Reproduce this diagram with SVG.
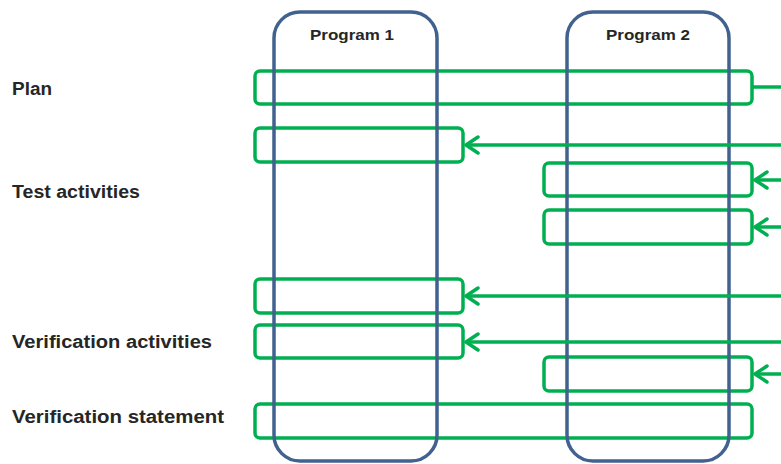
<svg xmlns="http://www.w3.org/2000/svg" width="781" height="464" viewBox="0 0 781 464">
<defs>
<style>
.col{fill:none;stroke:#41618f;stroke-width:3.5}
.box{fill:none;stroke:#00b050;stroke-width:3.5}
.con{fill:none;stroke:#00b050;stroke-width:3.5}
.lbl{font-family:"Liberation Sans",Arial,sans-serif;font-weight:bold;font-size:18px;fill:#262626}
.hdr{font-family:"Liberation Sans",Arial,sans-serif;font-weight:bold;font-size:15px;fill:#262626;text-anchor:middle}
</style>
<marker id="arr" viewBox="0 0 20 20" refX="18" refY="10" markerWidth="20" markerHeight="20" markerUnits="userSpaceOnUse" orient="auto">
<polyline points="6,2 18,10 6,18" fill="none" stroke="#00b050" stroke-width="3.5" stroke-linecap="round" stroke-linejoin="round"/>
</marker>
</defs>
<rect width="781" height="464" fill="#ffffff"/>
<g id="labels">
<text class="lbl" x="12" y="95" textLength="40" lengthAdjust="spacingAndGlyphs">Plan</text>
<text class="lbl" x="12" y="198" textLength="128" lengthAdjust="spacingAndGlyphs">Test activities</text>
<text class="lbl" x="12" y="348" textLength="200" lengthAdjust="spacingAndGlyphs">Verification activities</text>
<text class="lbl" x="12" y="423" textLength="212" lengthAdjust="spacingAndGlyphs">Verification statement</text>
</g>
<g id="boxes">
<rect id="plan" class="box" x="255" y="71" width="497" height="33" rx="5"/>
<rect id="test1" class="box" x="255" y="128" width="208" height="34" rx="5"/>
<rect id="test2" class="box" x="544" y="163" width="208" height="33" rx="5"/>
<rect id="test3" class="box" x="544" y="210" width="208" height="34" rx="5"/>
<rect id="ver1" class="box" x="255" y="279" width="208" height="34" rx="5"/>
<rect id="ver2" class="box" x="255" y="325" width="208" height="33" rx="5"/>
<rect id="ver3" class="box" x="544" y="357" width="208" height="34" rx="5"/>
<rect id="statement" class="box" x="255" y="404" width="497" height="34" rx="5"/>
</g>
<g id="program1">
<rect class="col" x="274" y="12" width="163" height="449" rx="26"/>
<text class="hdr" x="352" y="40" textLength="84" lengthAdjust="spacingAndGlyphs">Program 1</text>
</g>
<g id="program2">
<rect class="col" x="567" y="12" width="162" height="449" rx="26"/>
<text class="hdr" x="648" y="40" textLength="84" lengthAdjust="spacingAndGlyphs">Program 2</text>
</g>
<g id="connectors">
<line class="con" x1="752" y1="87" x2="781" y2="87"/>
<line class="con" x1="781" y1="145" x2="466" y2="145" marker-end="url(#arr)"/>
<line class="con" x1="781" y1="180" x2="755" y2="180" marker-end="url(#arr)"/>
<line class="con" x1="781" y1="227" x2="755" y2="227" marker-end="url(#arr)"/>
<line class="con" x1="781" y1="296" x2="466" y2="296" marker-end="url(#arr)"/>
<line class="con" x1="781" y1="342" x2="466" y2="342" marker-end="url(#arr)"/>
<line class="con" x1="781" y1="374" x2="755" y2="374" marker-end="url(#arr)"/>
</g>
</svg>
